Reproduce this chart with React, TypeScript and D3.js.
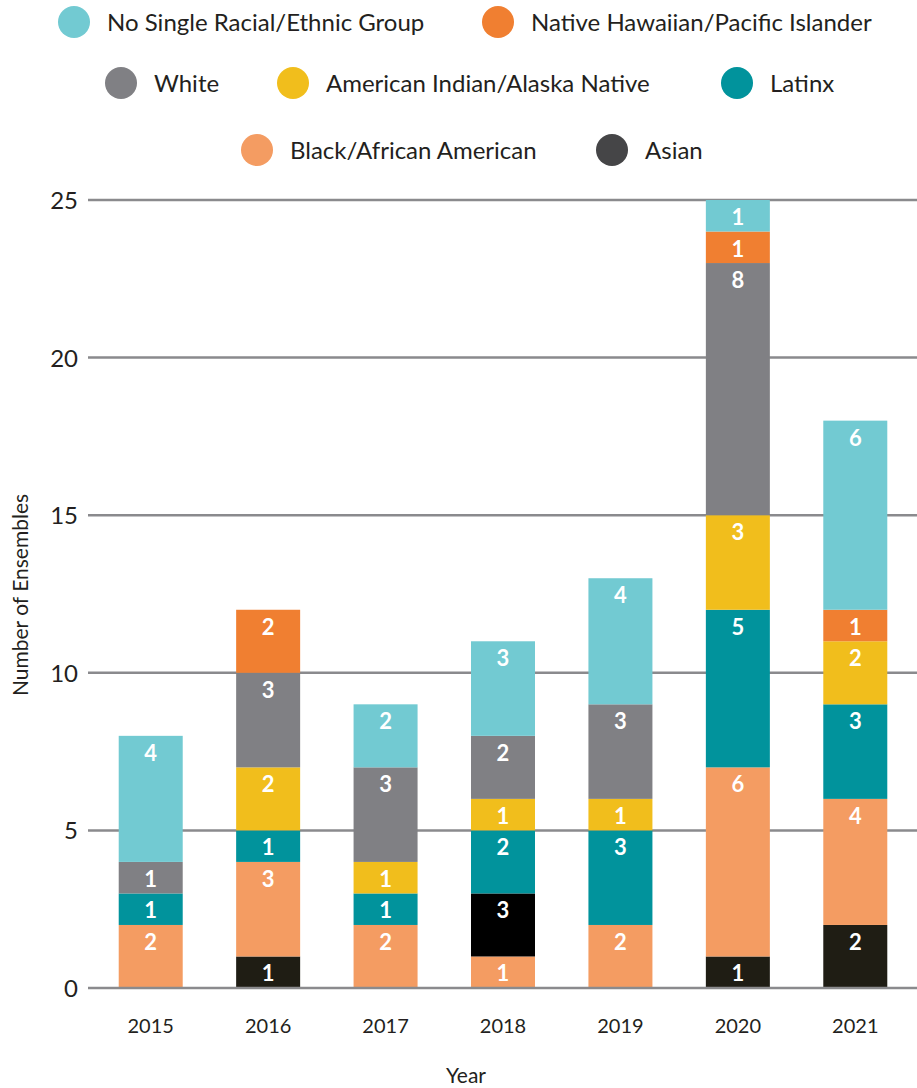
import React from "react";
import * as d3 from "d3";

const years = ["2015", "2016", "2017", "2018", "2019", "2020", "2021"];
const groups = [
  "Asian",
  "Black/African American",
  "Latinx",
  "American Indian/Alaska Native",
  "White",
  "Native Hawaiian/Pacific Islander",
  "No Single Racial/Ethnic Group",
];
const asian = [0, 1, 0, 2, 0, 1, 2];
const asianLabels = [0, 1, 0, 3, 0, 1, 2];
const black = [2, 3, 2, 1, 2, 6, 4];
const latinx = [1, 1, 1, 2, 3, 5, 3];
const americanIndian = [0, 2, 1, 1, 1, 3, 2];
const white = [1, 3, 3, 2, 3, 8, 0];
const nativeHawaiian = [0, 2, 0, 0, 0, 1, 1];
const noSingle = [4, 0, 2, 3, 4, 1, 6];
const yTicks = [0, 5, 10, 15, 20, 25];

const colors: Record<string, string> = {
  "Asian": "#1f1d14",
  "Black/African American": "#f49c62",
  "Latinx": "#01939c",
  "American Indian/Alaska Native": "#f1be1c",
  "White": "#808084",
  "Native Hawaiian/Pacific Islander": "#f07f31",
  "No Single Racial/Ethnic Group": "#72cad2",
};
const legendColors: Record<string, string> = { ...colors, Asian: "#454547" };

const seriesValues: Record<string, number[]> = {
  "Asian": asian,
  "Black/African American": black,
  "Latinx": latinx,
  "American Indian/Alaska Native": americanIndian,
  "White": white,
  "Native Hawaiian/Pacific Islander": nativeHawaiian,
  "No Single Racial/Ethnic Group": noSingle,
};
const seriesLabels: Record<string, number[]> = { ...seriesValues, Asian: asianLabels };

// 2018 stacks Black below Asian
const order2018 = [groups[1], groups[0], ...groups.slice(2)];

const legendRows = [
  [{ g: groups[6], cx: 74 }, { g: groups[5], cx: 498 }],
  [{ g: groups[4], cx: 121 }, { g: groups[3], cx: 293 }, { g: groups[2], cx: 737 }],
  [{ g: groups[1], cx: 257 }, { g: "Asian", cx: 612 }],
];
const legendY = [22, 83, 150];

const W = 917;
const H = 1088;
const FONT = "Lato, 'Open Sans', sans-serif";
const TEXT = "#231f20";

export default function App() {
  const x = d3.scalePoint<string>().domain(years).range([92, 914]).padding(0.5);
  const y = d3.scaleLinear().domain([0, 25]).range([988, 200]);
  const barW = 64;

  const segments: any[] = [];
  years.forEach((yr, i) => {
    const ord = yr === "2018" ? order2018 : groups;
    let acc = 0;
    ord.forEach((g) => {
      const v = seriesValues[g][i];
      if (v > 0) {
        segments.push({
          yr,
          g,
          y0: acc,
          y1: acc + v,
          label: seriesLabels[g][i],
          fill: g === "Asian" && yr === "2018" ? "#000000" : colors[g],
        });
      }
      acc += v;
    });
  });

  return (
    <svg width={W} height={H} style={{ position: "absolute", left: 0, top: 0 }}>
      <rect x={0} y={0} width={W} height={H} fill="#ffffff" />
      {/* legend */}
      {legendRows.map((row, ri) =>
        row.map((item) => (
          <g key={item.g}>
            <circle cx={item.cx} cy={legendY[ri]} r={16} fill={legendColors[item.g]} />
            <text
              x={item.cx + 33}
              y={legendY[ri] + 9}
              fontFamily={FONT}
              fontSize={24}
              fill={TEXT}
            >
              {item.g}
            </text>
          </g>
        ))
      )}
      {/* gridlines */}
      {yTicks.filter((t) => t > 0).map((t) => (
        <line key={t} x1={88} x2={W} y1={y(t)} y2={y(t)} stroke="#8a8a8d" strokeWidth={2.5} />
      ))}
      {yTicks.map((t) => (
        <text
          key={"l" + t}
          x={78}
          y={y(t) + 9}
          textAnchor="end"
          fontFamily={FONT}
          fontSize={24}
          fill={TEXT}
        >
          {t}
        </text>
      ))}
      {/* bars */}
      {segments.map((s, k) => (
        <g key={k}>
          <rect
            x={(x(s.yr) as number) - barW / 2}
            y={y(s.y1)}
            width={barW}
            height={y(s.y0) - y(s.y1)}
            fill={s.fill}
          />
          <text
            x={x(s.yr) as number}
            y={y(s.y1) + 25}
            textAnchor="middle"
            fontFamily={FONT}
            fontWeight={700}
            fontSize={22}
            fill="#ffffff"
          >
            {s.label}
          </text>
        </g>
      ))}
      <line x1={88} x2={W} y1={y(0)} y2={y(0)} stroke="#8a8a8d" strokeWidth={2.5} />
      {/* x labels */}
      {years.map((yr) => (
        <text
          key={yr}
          x={x(yr) as number}
          y={1033}
          textAnchor="middle"
          fontFamily={FONT}
          fontSize={20}
          fill={TEXT}
        >
          {yr}
        </text>
      ))}
      <text x={466} y={1083} textAnchor="middle" fontFamily={FONT} fontSize={21} fill={TEXT}>
        Year
      </text>
      <text
        transform={`translate(28, 595) rotate(-90)`}
        textAnchor="middle"
        fontFamily={FONT}
        fontSize={21}
        fill={TEXT}
      >
        Number of Ensembles
      </text>
    </svg>
  );
}
